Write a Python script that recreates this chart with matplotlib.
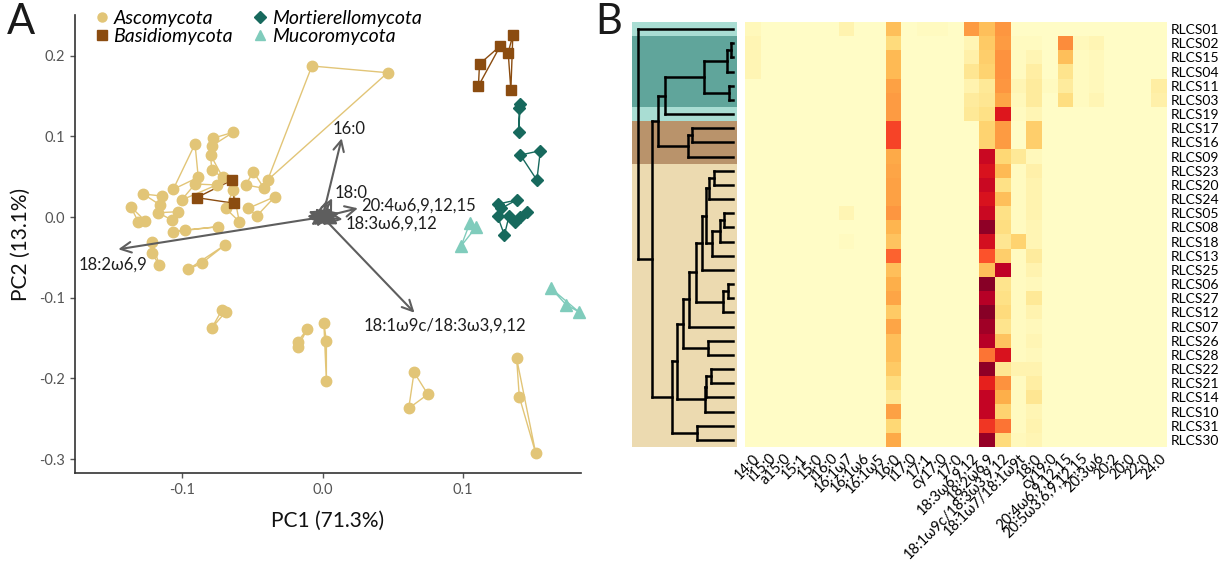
import numpy as np
import matplotlib
matplotlib.use('Agg')
import matplotlib.pyplot as plt
from matplotlib.lines import Line2D

plt.rcParams['font.family'] = ['Lato', 'DejaVu Sans']
plt.rcParams['axes.unicode_minus'] = False

# ---------------- panel A : PCA scores (replicates of one strain per list)
asco = [
	[(-0.0636, 0.1050), (-0.0782, 0.0975), (-0.0789, 0.0880)],
	[(-0.0908, 0.0905), (-0.1063, 0.0343), (-0.0885, 0.0492)],
	[(-0.0797, 0.0768), (-0.0789, 0.0582), (-0.0711, 0.0492)],
	[(-0.0493, 0.0561), (-0.0417, 0.0356), (-0.0547, 0.0397)],
	[(-0.0339, 0.0252), (-0.0469, 0.0012), (-0.0529, 0.0108)],
	[(-0.0754, 0.0397), (-0.0908, 0.0409), (-0.1003, 0.0211)],
	[(-0.1145, 0.0260), (-0.1276, 0.0285), (-0.1157, 0.0149)],
	[(-0.1366, 0.0128), (-0.1312, -0.0058), (-0.1264, -0.0046)],
	[(-0.1169, 0.0053), (-0.1027, 0.0066), (-0.1074, -0.0037)],
	[(-0.1216, -0.0306), (-0.1216, -0.0450), (-0.1162, -0.0595)],
	[(-0.1063, -0.0182), (-0.0979, -0.0161), (-0.0742, -0.0120)],
	[(-0.0690, 0.0108), (-0.0593, -0.0058), (-0.0636, 0.0335)],
	[(-0.0076, 0.1871), (0.0463, 0.1788), (-0.0391, 0.0458)],
	[(-0.0956, -0.0648), (-0.0861, -0.0574), (-0.0695, -0.0347)],
	[(-0.0790, -0.1379), (-0.0716, -0.1152), (-0.0689, -0.1173)],
	[(-0.0177, -0.1545), (-0.0177, -0.1615), (-0.0109, -0.1388)],
	[(0.0009, -0.1310), (0.0027, -0.1537), (0.0027, -0.2032)],
	[(0.0651, -0.1924), (0.0749, -0.2197), (0.0613, -0.2371)],
	[(0.1381, -0.1751), (0.1400, -0.2227), (0.1517, -0.2928)],
]
basidio = [
	[(0.1354, 0.2255), (0.1321, 0.2036), (0.1340, 0.1574)],
	[(0.1264, 0.2119), (0.1117, 0.1896), (0.1109, 0.1623)],
	[(-0.0896, 0.0240), (-0.0643, 0.0458), (-0.0628, 0.0170)],
]
mortierello = [
	[(0.1408, 0.1405), (0.1400, 0.1347), (0.1395, 0.1057)],
	[(0.1550, 0.0822), (0.1408, 0.0768), (0.1525, 0.0458)],
	[(0.1250, 0.0161), (0.1381, 0.0211), (0.1272, 0.0108)],
	[(0.1458, 0.0058), (0.1367, -0.0058), (0.1408, 0.0004)],
	[(0.1245, 0.0012), (0.1327, 0.0012), (0.1294, -0.0223)],
]
mucoro = [
	[(0.1049, -0.0071), (0.1095, -0.0120), (0.0986, -0.0359)],
	[(0.1626, -0.0884), (0.1735, -0.1090), (0.1822, -0.1173)],
]

# fatty acids and their loadings on PC1 / PC2
fa_names = ['14:0', 'i15:0', 'a15:0', '15:1', '15:0', 'i16:0', '16:1ω7', '16:1ω6',
	'16:1ω5', '16:0', 'i17:0', '17:1', 'cy17:0', '17:0', '18:3ω6,9,12', '18:2ω6,9',
	'18:1ω9c/18:3ω3,9,12', '18:1ω7/18:1ω9t', '18:0', 'cy19:0', '20:4ω6,9,12,15',
	'20:5ω3,6,9,12,15', '20:3ω6', '20:2', '20:0', '22:0', '24:0']
load_pc1 = [-0.008, -0.005, -0.009, 0.006, 0.004, -0.003, -0.010, 0.008, 0.010, 0.0136,
	-0.006, 0.002, -0.011, 0.009, 0.0142, -0.1454, 0.0654, 0.011, 0.0068, -0.004,
	0.0251, 0.012, 0.003, -0.005, 0.005, -0.008, 0.007]
load_pc2 = [0.005, -0.007, -0.003, -0.008, 0.009, 0.010, 0.007, 0.006, -0.004, 0.0975,
	-0.010, -0.011, 0.001, 0.002, -0.0029, -0.0400, -0.1186, -0.009, 0.0232, -0.012,
	0.0108, 0.005, 0.021, 0.011, -0.005, -0.010, 0.011]

# ---------------- panel B : fatty acid profiles (%) per strain, dendrogram order
strains = ['RLCS01', 'RLCS02', 'RLCS15', 'RLCS04', 'RLCS11', 'RLCS03', 'RLCS19', 'RLCS17',
	'RLCS16', 'RLCS09', 'RLCS23', 'RLCS20', 'RLCS24', 'RLCS05', 'RLCS08', 'RLCS18',
	'RLCS13', 'RLCS25', 'RLCS06', 'RLCS27', 'RLCS12', 'RLCS07', 'RLCS26', 'RLCS28',
	'RLCS22', 'RLCS21', 'RLCS14', 'RLCS10', 'RLCS31', 'RLCS30']
phylum = ['Mucoromycota'] + ['Mortierellomycota'] * 5 + ['Mucoromycota'] \
	+ ['Basidiomycota'] * 3 + ['Ascomycota'] * 20

profile = np.array([
	[3, 1, 1, 1, 1, 1, 5, 1, 1, 20, 1, 2, 2, 1, 27, 20, 28, 1, 1, 1, 1, 1, 1, 1, 1, 1, 1],
	[4, 1, 1, 1, 1, 1, 1, 1, 1, 14, 1, 1, 1, 1, 4, 18, 27, 2, 2, 1, 30, 3, 4, 1, 1, 1, 1],
	[4, 1, 1, 1, 1, 1, 1, 1, 1, 21, 1, 1, 1, 1, 6, 17, 29, 2, 4, 1, 20, 2, 3, 1, 1, 1, 1],
	[4, 1, 1, 1, 1, 1, 1, 1, 1, 21, 1, 1, 1, 1, 10, 16, 29, 2, 7, 1, 11, 2, 3, 1, 1, 1, 1],
	[1, 1, 1, 1, 1, 1, 1, 1, 1, 26, 1, 1, 1, 1, 5, 9, 28, 4, 8, 2, 8, 2, 3, 1, 1, 1, 7],
	[1, 1, 1, 1, 1, 1, 1, 1, 1, 27, 1, 1, 1, 1, 8, 10, 25, 3, 8, 1, 13, 2, 4, 1, 1, 1, 6],
	[1, 1, 1, 1, 1, 1, 1, 1, 1, 27, 1, 1, 1, 1, 9, 12, 46, 2, 4, 1, 1, 1, 1, 1, 1, 1, 1],
	[1, 1, 1, 1, 1, 1, 1, 1, 1, 39, 1, 1, 1, 1, 1, 16, 27, 1, 17, 1, 1, 1, 1, 1, 1, 1, 1],
	[1, 1, 1, 1, 1, 1, 1, 1, 1, 39, 1, 1, 1, 1, 1, 16, 27, 1, 17, 1, 1, 1, 1, 1, 1, 1, 1],
	[1, 1, 1, 1, 1, 1, 1, 1, 1, 24, 1, 1, 1, 1, 1, 50, 15, 9, 3, 1, 1, 1, 1, 1, 1, 1, 1],
	[1, 1, 1, 1, 1, 1, 1, 1, 1, 25, 1, 1, 1, 1, 1, 47, 21, 2, 6, 1, 1, 1, 1, 1, 1, 1, 1],
	[1, 1, 1, 1, 1, 1, 1, 1, 1, 26, 1, 1, 1, 1, 1, 50, 12, 2, 5, 1, 1, 1, 1, 1, 1, 1, 1],
	[1, 1, 1, 1, 1, 1, 1, 1, 1, 26, 1, 1, 1, 1, 1, 47, 20, 2, 5, 1, 1, 1, 1, 1, 1, 1, 1],
	[1, 1, 1, 1, 1, 1, 4, 1, 1, 28, 1, 1, 1, 1, 1, 50, 12, 2, 5, 1, 1, 1, 1, 1, 1, 1, 1],
	[1, 1, 1, 1, 1, 1, 1, 1, 1, 22, 1, 1, 1, 1, 1, 58, 13, 2, 4, 1, 1, 1, 1, 1, 1, 1, 1],
	[1, 1, 1, 1, 1, 1, 2, 1, 1, 19, 1, 1, 1, 1, 1, 48, 10, 16, 4, 1, 1, 1, 1, 1, 1, 1, 1],
	[1, 1, 1, 1, 1, 1, 1, 1, 1, 35, 1, 1, 1, 1, 1, 37, 17, 2, 8, 1, 1, 1, 1, 1, 1, 1, 1],
	[1, 1, 1, 1, 1, 1, 1, 1, 1, 20, 1, 1, 1, 1, 1, 20, 52, 2, 5, 1, 1, 1, 1, 1, 1, 1, 1],
	[1, 1, 1, 1, 1, 1, 1, 1, 1, 23, 1, 1, 1, 1, 1, 59, 11, 2, 3, 1, 1, 1, 1, 1, 1, 1, 1],
	[1, 1, 1, 1, 1, 1, 1, 1, 1, 25, 1, 1, 1, 1, 1, 53, 12, 2, 9, 1, 1, 1, 1, 1, 1, 1, 1],
	[1, 1, 1, 1, 1, 1, 1, 1, 1, 18, 1, 1, 1, 1, 1, 59, 14, 2, 5, 1, 1, 1, 1, 1, 1, 1, 1],
	[1, 1, 1, 1, 1, 1, 1, 1, 1, 25, 1, 1, 1, 1, 1, 56, 11, 2, 3, 1, 1, 1, 1, 1, 1, 1, 1],
	[1, 1, 1, 1, 1, 1, 1, 1, 1, 20, 1, 1, 1, 1, 1, 53, 19, 2, 4, 1, 1, 1, 1, 1, 1, 1, 1],
	[1, 1, 1, 1, 1, 1, 1, 1, 1, 20, 1, 1, 1, 1, 1, 33, 47, 2, 3, 1, 1, 1, 1, 1, 1, 1, 1],
	[1, 1, 1, 1, 1, 1, 1, 1, 1, 18, 1, 1, 1, 1, 1, 58, 10, 5, 5, 1, 1, 1, 1, 1, 1, 1, 1],
	[1, 1, 1, 1, 1, 1, 1, 1, 1, 13, 1, 1, 1, 1, 1, 44, 29, 2, 7, 1, 1, 1, 1, 1, 1, 1, 1],
	[1, 1, 1, 1, 1, 1, 1, 1, 1, 9, 1, 1, 1, 1, 1, 51, 23, 2, 10, 1, 1, 1, 1, 1, 1, 1, 1],
	[1, 1, 1, 1, 1, 1, 1, 1, 1, 26, 1, 1, 1, 1, 1, 51, 16, 2, 4, 1, 1, 1, 1, 1, 1, 1, 1],
	[1, 1, 1, 1, 1, 1, 1, 1, 1, 15, 1, 1, 1, 1, 1, 41, 33, 2, 5, 1, 1, 1, 1, 1, 1, 1, 1],
	[1, 1, 1, 1, 1, 1, 1, 1, 1, 24, 1, 1, 1, 1, 1, 57, 14, 3, 4, 1, 1, 1, 1, 1, 1, 1, 1],
])

# merges : (node, child, child, height) ; int child = row of strains
links = [
	('H', 1, 2, 0.02), ('F', 'H', 3, 0.06), ('G', 4, 5, 0.04), ('E', 'F', 'G', 0.31),
	('C', 'E', 6, 0.72), ('I', 7, 8, 0.43), ('D', 'I', 9, 0.47), ('A', 'C', 'D', 0.79),
	('a', 10, 11, 0.20), ('b', 'a', 12, 0.25), ('c', 13, 14, 0.09), ('d', 'c', 15, 0.14),
	('e', 'd', 16, 0.22), ('f', 'b', 'e', 0.28), ('g', 'f', 17, 0.33), ('i', 18, 19, 0.05),
	('j', 'i', 20, 0.11), ('k', 'g', 'j', 0.39), ('l', 'k', 21, 0.46), ('n', 22, 23, 0.26),
	('m', 'l', 'n', 0.53), ('s', 24, 25, 0.23), ('t', 's', 26, 0.28), ('p', 't', 27, 0.29),
	('o', 'm', 'p', 0.59), ('v', 28, 29, 0.38), ('u', 'o', 'v', 0.64), ('N', 'A', 'u', 0.85),
	('R', 0, 'N', 1.00),
]

colors = {'Ascomycota': '#e2c577', 'Basidiomycota': '#8b4c10',
	'Mortierellomycota': '#17695d', 'Mucoromycota': '#80ccbc'}
bands = {'Ascomycota': '#ecdab0', 'Basidiomycota': '#b9936b',
	'Mortierellomycota': '#60a59b', 'Mucoromycota': '#a9ddd3'}
markers = {'Ascomycota': ('o', 7.5), 'Basidiomycota': ('s', 7),
	'Mortierellomycota': ('D', 6.5), 'Mucoromycota': ('^', 8)}

# label anchors of the named loadings (x, y, ha)
loading_text = {
	'16:0': (0.0069, 0.109, 'left'),
	'18:0': (0.0087, 0.0297, 'left'),
	'20:4ω6,9,12,15': (0.0272, 0.014, 'left'),
	'18:3ω6,9,12': (0.0165, -0.0087, 'left'),
	'18:2ω6,9': (-0.1735, -0.0595, 'left'),
	'18:1ω9c/18:3ω3,9,12': (0.087, -0.1345, 'center'),
}

fig = plt.figure(figsize=(12.19, 5.62), dpi=100)

# ======================= A
ax = fig.add_axes([0.0612, 0.1578, 0.4154, 0.8155])
for name, groups in (('Ascomycota', asco), ('Basidiomycota', basidio),
		('Mortierellomycota', mortierello), ('Mucoromycota', mucoro)) :
	mk, ms = markers[name]
	for g in groups :
		xs = [p[0] for p in g]
		ys = [p[1] for p in g]
		ax.plot(xs + xs[:1], ys + ys[:1], color=colors[name], lw=1.0, zorder=2)
		ax.plot(xs, ys, ls='none', marker=mk, ms=ms, color=colors[name], zorder=3, clip_on=False)

for n, x, y in zip(fa_names, load_pc1, load_pc2) :
	ax.annotate('', xy=(x, y), xytext=(0, 0), zorder=4,
		arrowprops=dict(arrowstyle='->', color='#5e5e5e', lw=1.5, mutation_scale=19,
			shrinkA=0, shrinkB=0))
	if n in loading_text :
		tx, ty, ha = loading_text[n]
		ax.text(tx, ty, n, fontsize=12, ha=ha, va='center', color='#1e1e1e', zorder=5)

ax.set_xlim(-0.1765, 0.1839)
ax.set_ylim(-0.3176, 0.2503)
ax.set_xticks([-0.1, 0.0, 0.1])
ax.set_yticks([-0.3, -0.2, -0.1, 0.0, 0.1, 0.2])
ax.set_xticklabels(['-0.1', '0.0', '0.1'])
ax.set_yticklabels(['-0.3', '-0.2', '-0.1', '0.0', '0.1', '0.2'])
for s in ('top', 'right') :
	ax.spines[s].set_visible(False)
for s in ('left', 'bottom') :
	ax.spines[s].set_color('#333333')
	ax.spines[s].set_linewidth(1.2)
ax.tick_params(colors='#555555', labelsize=10.5, length=3.5, width=1)
ax.set_xlabel('PC1 (71.3%)', fontsize=15, labelpad=10, color='#111111')
ax.set_ylabel('PC2 (13.1%)', fontsize=15, labelpad=6, color='#111111')

handles = [Line2D([], [], ls='none', marker=markers[p][0], ms=6.5, color=colors[p])
	for p in ('Ascomycota', 'Basidiomycota', 'Mortierellomycota', 'Mucoromycota')]
ax.legend(handles, ['Ascomycota', 'Basidiomycota', 'Mortierellomycota', 'Mucoromycota'],
	ncol=2, loc='upper left', bbox_to_anchor=(0.0, 1.05), frameon=False,
	prop=dict(size=14, style='italic'), handletextpad=0.1, columnspacing=0.9,
	labelspacing=0.05, handlelength=1.0)

# ======================= B
axd = fig.add_axes([632 / 1219, 0.2046, 105 / 1219, 0.7562])
for i, p in enumerate(phylum) :
	axd.axhspan(i - 0.5, i + 0.5, color=bands[p], lw=0)

node_pos = dict()
for name, c1, c2, h in links :
	ys = []
	for c in (c1, c2) :
		if isinstance(c, str) :
			y, hc = node_pos[c]
		else :
			y, hc = c, 0.0
		axd.plot([hc, h], [y, y], color='black', lw=1.8, solid_capstyle='projecting')
		ys.append(y)
	axd.plot([h, h], ys, color='black', lw=1.8, solid_capstyle='projecting')
	node_pos[name] = (np.mean(ys), h)
axd.set_xlim(1.063, -0.042)
axd.set_ylim(len(strains) - 0.5, -0.5)
axd.axis('off')

axh = fig.add_axes([745 / 1219, 0.2046, 422 / 1219, 0.7562])
axh.imshow(profile, cmap='YlOrRd', vmin=0, vmax=60, aspect='auto', interpolation='nearest')
axh.set_xticks(range(len(fa_names)))
axh.set_xticklabels(fa_names, rotation=45, ha='right', rotation_mode='anchor', fontsize=10.5)
axh.set_yticks(range(len(strains)))
axh.set_yticklabels(strains, fontsize=10)
axh.yaxis.tick_right()
axh.tick_params(length=0, pad=3)
for s in axh.spines.values() :
	s.set_visible(False)

fig.text(0.006, 0.995, 'A', fontsize=30, va='top', color='#1a1a1a')
fig.text(0.488, 0.995, 'B', fontsize=30, va='top', color='#1a1a1a')

fig.savefig('out.png', dpi=100, facecolor='white')
